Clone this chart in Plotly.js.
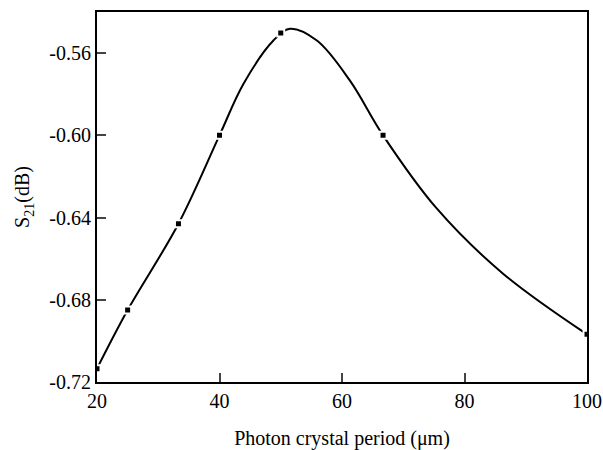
<!DOCTYPE html>
<html>
<head>
<meta charset="utf-8">
<script src="https://cdn.plot.ly/plotly-3.0.1.min.js"></script>
<style>html,body{margin:0;padding:0;background:#fff;}#chart{width:603px;height:450px;}</style>
</head>
<body>
<div id="chart"></div>
<script>
// measured data points (markers)
const period = [20, 25, 33.3, 40, 50, 66.7, 100];
const s21 = [-0.7135, -0.685, -0.643, -0.600, -0.5502, -0.600, -0.6968];
// smooth curve
const curvePeriod = [20, 25, 33.3, 40, 43.9, 48.8, 51.5, 55.9, 61.3, 66.7, 75.5, 86.3, 100];
const curveS21 = [-0.7135, -0.685, -0.643, -0.600, -0.575, -0.5539, -0.5482, -0.5539, -0.5734, -0.600, -0.6357, -0.6673, -0.6968];
const yTickVals = [-0.72, -0.68, -0.64, -0.60, -0.56];
const yTickText = ["-0.72", "-0.68", "-0.64", "-0.60", "-0.56"];
const xTickVals = [20, 40, 60, 80, 100];

const font = {family: "Liberation Serif, Times New Roman, serif", color: "#000"};
const f = s => Object.assign({size: s}, font);

Plotly.newPlot("chart", [{
  x: curvePeriod, y: curveS21,
  type: "scatter", mode: "lines",
  line: {shape: "spline", smoothing: 1, color: "#000", width: 2},
  hoverinfo: "skip"
}, {
  x: period, y: s21,
  type: "scatter", mode: "markers",
  marker: {symbol: "square", size: 7, color: "#000", line: {color: "#fff", width: 2}},
  cliponaxis: true
}], {
  width: 603, height: 450,
  margin: {l: 97, r: 16, t: 12, b: 68},
  paper_bgcolor: "#fff", plot_bgcolor: "#fff",
  showlegend: false,
  font: f(20),
  xaxis: {
    range: [20, 100], tickvals: xTickVals, ticks: "inside", ticklen: 9, tickwidth: 2,
    showline: true, linewidth: 2, linecolor: "#000", mirror: true, showgrid: false, zeroline: false,
    tickfont: f(20),
    title: {text: "Photon crystal period (μm)", font: f(20), standoff: 21}
  },
  yaxis: {
    range: [-0.72, -0.54], tickvals: yTickVals, ticktext: yTickText, ticks: "inside", ticklen: 9, tickwidth: 2,
    showline: true, linewidth: 2, linecolor: "#000", mirror: true, showgrid: false, zeroline: false,
    tickfont: f(20),
    title: {text: "S<sub>21</sub>(dB)", font: f(20), standoff: 14}
  }
}, {displayModeBar: false, staticPlot: true});
</script>
</body>
</html>
